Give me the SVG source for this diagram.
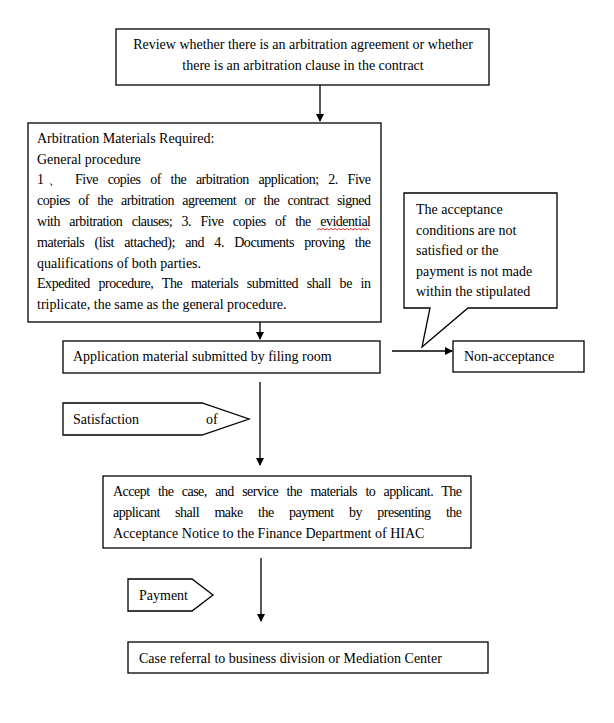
<svg xmlns="http://www.w3.org/2000/svg" width="614" height="723" viewBox="0 0 614 723">
<style>
  .box { fill: #fff; stroke: #000; stroke-width: 1.3; }
  .t { font-family: "Liberation Serif", "Times New Roman", serif; font-size: 14px; fill: #000; }
  .c { text-anchor: middle; }
  .ln { stroke: #000; stroke-width: 1.3; fill: none; }
</style>
<defs>
  <marker id="ah" markerWidth="8" markerHeight="8" refX="7" refY="4" orient="auto" markerUnits="userSpaceOnUse">
    <path d="M0,0 L8,4 L0,8 Z" fill="#000"/>
  </marker>
</defs>
<rect width="614" height="723" fill="#fff"/>

<g id="connectors">
  <line class="ln" x1="320" y1="85" x2="320" y2="121" marker-end="url(#ah)"/>
  <line class="ln" x1="260" y1="322" x2="260" y2="339" marker-end="url(#ah)"/>
  <line class="ln" x1="392" y1="351" x2="452" y2="351" marker-end="url(#ah)"/>
  <line class="ln" x1="260" y1="382" x2="260" y2="465" marker-end="url(#ah)"/>
  <line class="ln" x1="261" y1="558" x2="261" y2="621" marker-end="url(#ah)"/>
</g>

<g id="review">
  <rect class="box" x="116" y="29" width="373" height="56"/>
  <text class="t c" x="303" y="49">Review whether there is an arbitration agreement or whether</text>
  <text class="t c" x="303" y="70">there is an arbitration clause in the contract</text>
</g>

<g id="materials">
  <rect class="box" x="28" y="123" width="353" height="199"/>
  <text class="t" x="37" y="143">Arbitration Materials Required:</text>
  <text class="t" x="37" y="164">General procedure</text>
  <text class="t" x="37" y="184">1</text>
  <text class="t" x="48" y="184">、</text>
  <text class="t" x="75" y="184" word-spacing="6.7" textLength="296" lengthAdjust="spacing">Five copies of the arbitration application; 2. Five</text>
  <text class="t" x="37" y="205" word-spacing="5.3" textLength="334" lengthAdjust="spacing">copies of the arbitration agreement or the contract signed</text>
  <text class="t" x="37" y="226" word-spacing="6.4" textLength="334" lengthAdjust="spacing">with arbitration clauses; 3. Five copies of the evidential</text>
  <path d="M317,230 l2,-1.5 l2,1.5 l2,-1.5 l2,1.5 l2,-1.5 l2,1.5 l2,-1.5 l2,1.5 l2,-1.5 l2,1.5 l2,-1.5 l2,1.5 l2,-1.5 l2,1.5 l2,-1.5 l2,1.5 l2,-1.5 l2,1.5 l2,-1.5 l2,1.5 l2,-1.5 l2,1.5 l2,-1.5 l2,1.5 l2,-1.5 l2,1.5" fill="none" stroke="#e00000" stroke-width="0.8"/>
  <text class="t" x="37" y="247" word-spacing="7.2" textLength="334" lengthAdjust="spacing">materials (list attached); and 4. Documents proving the</text>
  <text class="t" x="37" y="268">qualifications of both parties.</text>
  <text class="t" x="37" y="288" word-spacing="5.6" textLength="334" lengthAdjust="spacing">Expedited procedure, The materials submitted shall be in</text>
  <text class="t" x="37" y="309">triplicate, the same as the general procedure.</text>
</g>

<g id="callout">
  <path class="box" d="M404,193 H557 V308 H468 L422,347 L430,308 H404 Z"/>
  <text class="t" x="416" y="214">The acceptance</text>
  <text class="t" x="416" y="235">conditions are not</text>
  <text class="t" x="416" y="255">satisfied or the</text>
  <text class="t" x="416" y="276">payment is not made</text>
  <text class="t" x="416" y="296">within the stipulated</text>
</g>

<g id="filing">
  <rect class="box" x="63" y="341" width="317" height="32"/>
  <text class="t" x="73" y="361">Application material submitted by filing room</text>
</g>

<g id="nonacceptance">
  <rect class="box" x="453" y="341" width="131" height="31"/>
  <text class="t" x="464" y="361">Non-acceptance</text>
</g>

<g id="satisfaction">
  <polygon class="box" points="63,403 202,403 249,419 202,435 63,435"/>
  <text class="t" x="73" y="424">Satisfaction</text>
  <text class="t" x="206" y="424">of</text>
</g>

<g id="accept">
  <rect class="box" x="103" y="476" width="368" height="72"/>
  <text class="t" x="113" y="496" word-spacing="5.4" textLength="349" lengthAdjust="spacing">Accept the case, and service the materials to applicant. The</text>
  <text class="t" x="113" y="517" word-spacing="12.3" textLength="349" lengthAdjust="spacing">applicant shall make the payment by presenting the</text>
  <text class="t" x="113" y="538">Acceptance Notice to the Finance Department of HIAC</text>
</g>

<g id="payment">
  <polygon class="box" points="128,579 192,579 213,595 192,611 128,611"/>
  <text class="t" x="139" y="600">Payment</text>
</g>

<g id="referral">
  <rect class="box" x="128" y="642" width="360" height="31"/>
  <text class="t" x="139" y="663">Case referral to business division or Mediation Center</text>
</g>
</svg>
